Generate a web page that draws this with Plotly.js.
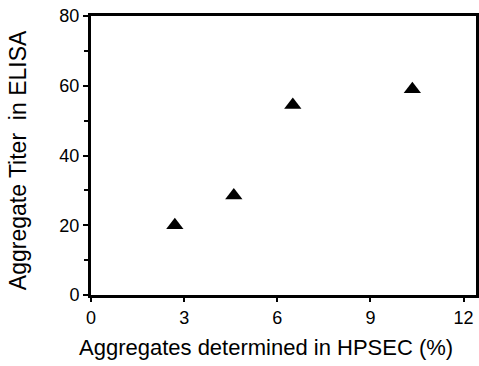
<!DOCTYPE html>
<html><head><meta charset="utf-8">
<script src="https://cdn.plot.ly/plotly-3.0.1.min.js"></script>
<style>html,body{margin:0;padding:0;background:#fff}#c{width:479px;height:366px}</style>
</head><body><div id="c"></div>
<script>
const xValues = [2.7, 4.6, 6.5, 10.35];
const yValues = [20, 28.5, 54.5, 59];
const xTicks = [0, 3, 6, 9, 12];
const yTicks = [0, 20, 40, 60, 80];
const xTitle = "Aggregates determined in HPSEC (%)";
const yTitle = "Aggregate Titer  in ELISA";

const fnt = {family: "Liberation Sans, Arial, sans-serif", color: "#000"};
Plotly.newPlot("c", [{
  x: xValues, y: yValues, type: "scatter", mode: "markers",
  marker: {symbol: "triangle-up", size: 15, color: "#000"},
  showlegend: false, hoverinfo: "none"
}], {
  width: 479, height: 366,
  margin: {l: 91, r: 3, t: 16, b: 71},
  paper_bgcolor: "#fff", plot_bgcolor: "#fff",
  font: Object.assign({size: 18}, fnt),
  xaxis: {
    range: [0, 12.4], tickvals: xTicks, ticktext: xTicks.map(String),
    showgrid: false, zeroline: false, showline: true, mirror: true,
    linecolor: "#000", linewidth: 3, ticks: "outside", ticklen: 4, tickwidth: 2, tickcolor: "#000",
    tickfont: Object.assign({size: 18}, fnt)
  },
  yaxis: {
    range: [0, 80], tickvals: yTicks, ticktext: yTicks.map(String),
    showgrid: false, zeroline: false, showline: true, mirror: true,
    linecolor: "#000", linewidth: 3, ticks: "outside", ticklen: 5, tickwidth: 2, tickcolor: "#000",
    minor: {dtick: 10, ticks: "outside", ticklen: 4, tickwidth: 2, tickcolor: "#000"},
    tickfont: Object.assign({size: 18}, fnt)
  },
  annotations: [
    {text: xTitle, xref: "paper", yref: "paper", x: 0.455, y: -0.188,
     xanchor: "center", yanchor: "middle", showarrow: false, font: Object.assign({size: 22}, fnt)},
    {text: yTitle, xref: "paper", yref: "paper", x: -0.189, y: 0.484, textangle: -90,
     xanchor: "center", yanchor: "middle", showarrow: false, font: Object.assign({size: 23}, fnt)}
  ]
}, {staticPlot: true, displayModeBar: false});
</script></body></html>
